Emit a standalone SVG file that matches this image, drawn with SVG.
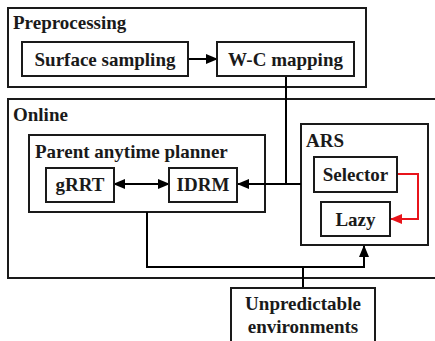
<svg xmlns="http://www.w3.org/2000/svg" width="435" height="341" viewBox="0 0 435 341">
  <style>
    .box { fill: none; stroke: #1a1a1a; stroke-width: 2; }
    .node { fill: #fff; stroke: #1a1a1a; stroke-width: 2; }
    .wire { fill: none; stroke: #000; stroke-width: 2; }
    .red { fill: none; stroke: #e8141b; stroke-width: 2; }
    text { font-family: "Liberation Serif", "Times New Roman", serif; font-weight: bold; font-size: 19px; fill: #1a1a1a; }
    .c { text-anchor: middle; }
  </style>
  <defs>
    <marker id="ah" markerWidth="12" markerHeight="10" refX="11" refY="5" orient="auto-start-reverse" markerUnits="userSpaceOnUse">
      <path d="M0,0 L12,5 L0,10 Z" fill="#000"/>
    </marker>
    <marker id="ahr" markerWidth="12" markerHeight="10" refX="11" refY="5" orient="auto" markerUnits="userSpaceOnUse">
      <path d="M0,0 L12,5 L0,10 Z" fill="#e8141b"/>
    </marker>
  </defs>

  <!-- containers -->
  <g id="preprocessing">
    <rect class="box" x="8" y="8" width="358" height="79"/>
    <text x="13" y="29">Preprocessing</text>
  </g>
  <g id="online">
    <rect class="box" x="8" y="99" width="440" height="179"/>
    <text x="13" y="121">Online</text>
  </g>
  <g id="parent-planner">
    <rect class="box" x="29" y="135" width="236" height="77"/>
    <text x="35" y="158">Parent anytime planner</text>
  </g>
  <g id="ars">
    <rect class="box" x="301" y="124" width="127" height="121"/>
    <text x="306" y="147">ARS</text>
  </g>

  <!-- connectors -->
  <g id="connectors">
    <line class="wire" x1="188" y1="59" x2="217" y2="59" marker-end="url(#ah)"/>
    <polyline class="wire" points="286,76 286,184"/>
    <line class="wire" x1="301" y1="184" x2="238" y2="184" marker-end="url(#ah)"/>
    <line class="wire" x1="114" y1="184" x2="169" y2="184" marker-start="url(#ah)" marker-end="url(#ah)"/>
    <polyline class="red" points="397,174 418,174 418,219 391,219" marker-end="url(#ahr)"/>
    <polyline class="wire" points="147,212 147,267 364,267 364,246" marker-end="url(#ah)"/>
    <line class="wire" x1="303" y1="288" x2="303" y2="267"/>
  </g>

  <!-- nodes -->
  <g id="surface-sampling">
    <rect class="node" x="22" y="42" width="166" height="34"/>
    <text class="c" x="105" y="66">Surface sampling</text>
  </g>
  <g id="wc-mapping">
    <rect class="node" x="217" y="42" width="137" height="34"/>
    <text class="c" x="285.5" y="66">W-C mapping</text>
  </g>
  <g id="grrt">
    <rect class="node" x="46" y="168" width="68" height="34"/>
    <text class="c" x="80" y="191">gRRT</text>
  </g>
  <g id="idrm">
    <rect class="node" x="169" y="168" width="68" height="34"/>
    <text class="c" x="203" y="191">IDRM</text>
  </g>
  <g id="selector">
    <rect class="node" x="314" y="157" width="83" height="35"/>
    <text class="c" x="355.5" y="181">Selector</text>
  </g>
  <g id="lazy">
    <rect class="node" x="321" y="202" width="69" height="34"/>
    <text class="c" x="355.5" y="226">Lazy</text>
  </g>
  <g id="unpredictable">
    <rect class="node" x="231" y="288" width="144" height="60"/>
    <text class="c" x="303" y="310">Unpredictable</text>
    <text class="c" x="303" y="333">environments</text>
  </g>
</svg>
